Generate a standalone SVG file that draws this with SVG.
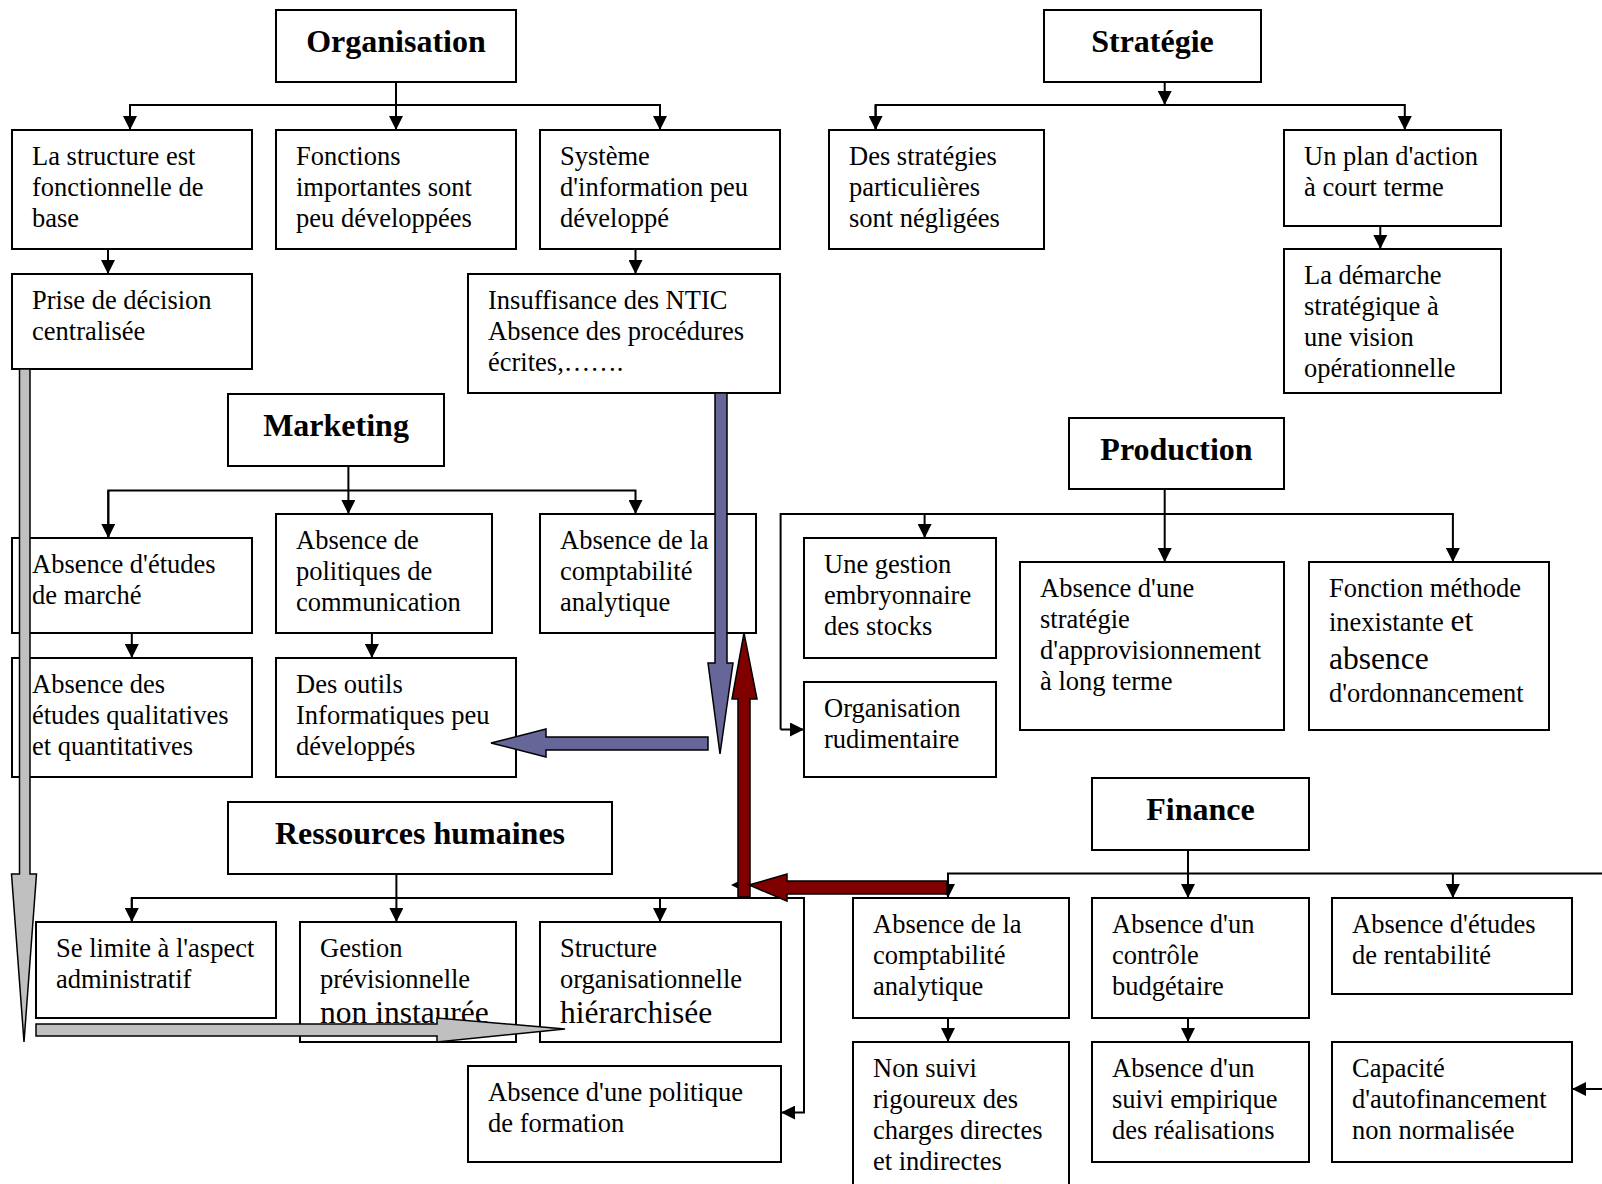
<svg xmlns="http://www.w3.org/2000/svg" width="1602" height="1184" viewBox="0 0 1602 1184">
<defs>
<style>
.box{fill:#fff;stroke:#000;stroke-width:2}
.t{font-family:"Liberation Serif","Times New Roman",serif;font-size:26.5px;fill:#000}
.big{font-size:31.5px}
.h{font-family:"Liberation Serif","Times New Roman",serif;font-size:32px;font-weight:bold;text-anchor:middle;fill:#000}
.c{fill:none;stroke:#000;stroke-width:2}
.gray{fill:#c0c0c0;stroke:#000;stroke-width:1.5}
.blue{fill:#666699;stroke:#000;stroke-width:1.5}
.red{fill:#800000;stroke:#000;stroke-width:1.5}
</style>
<marker id="ah" markerUnits="userSpaceOnUse" markerWidth="14" markerHeight="14" refX="14" refY="7" orient="auto"><path d="M0,0 L14,7 L0,14 z" fill="#000"/></marker>
</defs>
<rect width="1602" height="1184" fill="#fff"/>

<g id="connectors">
<!-- Organisation -->
<path class="c" d="M396,82 V130" marker-end="url(#ah)"/>
<path class="c" d="M130,130 V105 H660 V130" marker-end="url(#ah)"/>
<path class="c" d="M130,105 V130" marker-end="url(#ah)"/>
<path class="c" d="M108,249 V274" marker-end="url(#ah)"/>
<path class="c" d="M635.5,249 V274" marker-end="url(#ah)"/>
<!-- Strategie -->
<path class="c" d="M1164.7,82 V105" marker-end="url(#ah)"/>
<path class="c" d="M875.6,130 V105 H1404.8 V130" marker-end="url(#ah)"/>
<path class="c" d="M875.6,105 V130" marker-end="url(#ah)"/>
<path class="c" d="M1380.3,226 V249" marker-end="url(#ah)"/>
<!-- Marketing -->
<path class="c" d="M348.4,466 V514" marker-end="url(#ah)"/>
<path class="c" d="M108.3,538 V490.4 H635.5 V514" marker-end="url(#ah)"/>
<path class="c" d="M108.3,490.4 V538" marker-end="url(#ah)"/>
<path class="c" d="M131.8,633 V658" marker-end="url(#ah)"/>
<path class="c" d="M371.9,633 V658" marker-end="url(#ah)"/>
<!-- Production -->
<path class="c" d="M1164.7,489 V562" marker-end="url(#ah)"/>
<path class="c" d="M780.6,729.5 V514 H1452.9 V562" marker-end="url(#ah)"/>
<path class="c" d="M780.6,729.5 H804" marker-end="url(#ah)"/>
<path class="c" d="M924.6,514 V538" marker-end="url(#ah)"/>
<!-- Ressources humaines -->
<path class="c" d="M396.4,874 V922" marker-end="url(#ah)"/>
<path class="c" d="M131.8,922 V898 H804 V1112.6 H781" marker-end="url(#ah)"/>
<path class="c" d="M131.8,898 V922" marker-end="url(#ah)"/>
<path class="c" d="M660,898 V922" marker-end="url(#ah)"/>
<!-- Finance -->
<path class="c" d="M1188,850 V898" marker-end="url(#ah)"/>
<path class="c" d="M948,898 V873.6 H1602"/>
<path class="c" d="M948,873.6 V898" marker-end="url(#ah)"/>
<path class="c" d="M1452.9,873.6 V898" marker-end="url(#ah)"/>
<path class="c" d="M948,1018 V1042" marker-end="url(#ah)"/>
<path class="c" d="M1188,1018 V1042" marker-end="url(#ah)"/>
<path class="c" d="M1602,1089 H1572" marker-end="url(#ah)"/>
<polygon points="731,885 742,879.5 742,890.5" fill="#000"/>
</g>

<g id="organisation"><rect class="box" x="276" y="10" width="240" height="72"/><text class="h" x="396" y="52">Organisation</text></g>
<g id="org-structure"><rect class="box" x="12" y="130" width="240" height="119"/><text class="t" x="32" y="165">La structure est</text><text class="t" x="32" y="196">fonctionnelle de</text><text class="t" x="32" y="227">base</text></g>
<g id="org-fonctions"><rect class="box" x="276" y="130" width="240" height="119"/><text class="t" x="296" y="165">Fonctions</text><text class="t" x="296" y="196">importantes sont</text><text class="t" x="296" y="227">peu développées</text></g>
<g id="org-systeme"><rect class="box" x="540" y="130" width="240" height="119"/><text class="t" x="560" y="165">Système</text><text class="t" x="560" y="196">d'information peu</text><text class="t" x="560" y="227">développé</text></g>
<g id="org-decision"><rect class="box" x="12" y="274" width="240" height="95"/><text class="t" x="32" y="309">Prise de décision</text><text class="t" x="32" y="340">centralisée</text></g>
<g id="org-ntic"><rect class="box" x="468" y="274" width="312" height="119"/><text class="t" x="488" y="309">Insuffisance des NTIC</text><text class="t" x="488" y="340">Absence des procédures</text><text class="t" x="488" y="371">écrites,…….</text></g>

<g id="strategie"><rect class="box" x="1044" y="10" width="217" height="72"/><text class="h" x="1152.5" y="52">Stratégie</text></g>
<g id="str-particulieres"><rect class="box" x="829" y="130" width="215" height="119"/><text class="t" x="849" y="165">Des stratégies</text><text class="t" x="849" y="196">particulières</text><text class="t" x="849" y="227">sont négligées</text></g>
<g id="str-plan"><rect class="box" x="1284" y="130" width="217" height="96"/><text class="t" x="1304" y="165">Un plan d'action</text><text class="t" x="1304" y="196">à court terme</text></g>
<g id="str-demarche"><rect class="box" x="1284" y="249" width="217" height="144"/><text class="t" x="1304" y="284">La démarche</text><text class="t" x="1304" y="315">stratégique à</text><text class="t" x="1304" y="346">une vision</text><text class="t" x="1304" y="377">opérationnelle</text></g>

<g id="marketing"><rect class="box" x="228" y="394" width="216" height="72"/><text class="h" x="336" y="436">Marketing</text></g>
<g id="mkt-etudes"><rect class="box" x="12" y="538" width="240" height="95"/><text class="t" x="32" y="573">Absence d'études</text><text class="t" x="32" y="604">de marché</text></g>
<g id="mkt-communication"><rect class="box" x="276" y="514" width="216" height="119"/><text class="t" x="296" y="549">Absence de</text><text class="t" x="296" y="580">politiques de</text><text class="t" x="296" y="611">communication</text></g>
<g id="mkt-comptabilite"><rect class="box" x="540" y="514" width="216" height="119"/><text class="t" x="560" y="549">Absence de la</text><text class="t" x="560" y="580">comptabilité</text><text class="t" x="560" y="611">analytique</text></g>
<g id="mkt-qualitatives"><rect class="box" x="12" y="658" width="240" height="119"/><text class="t" x="32" y="693">Absence des</text><text class="t" x="32" y="724">études qualitatives</text><text class="t" x="32" y="755">et quantitatives</text></g>
<g id="mkt-outils"><rect class="box" x="276" y="658" width="240" height="119"/><text class="t" x="296" y="693">Des outils</text><text class="t" x="296" y="724">Informatiques peu</text><text class="t" x="296" y="755">développés</text></g>

<g id="production"><rect class="box" x="1069" y="418" width="215" height="71"/><text class="h" x="1176.5" y="460">Production</text></g>
<g id="prod-stocks"><rect class="box" x="804" y="538" width="192" height="120"/><text class="t" x="824" y="573">Une gestion</text><text class="t" x="824" y="604">embryonnaire</text><text class="t" x="824" y="635">des stocks</text></g>
<g id="prod-organisation"><rect class="box" x="804" y="682" width="192" height="95"/><text class="t" x="824" y="717">Organisation</text><text class="t" x="824" y="748">rudimentaire</text></g>
<g id="prod-approvisionnement"><rect class="box" x="1020" y="562" width="264" height="168"/><text class="t" x="1040" y="597">Absence d'une</text><text class="t" x="1040" y="628">stratégie</text><text class="t" x="1040" y="659">d'approvisionnement</text><text class="t" x="1040" y="690">à long terme</text></g>
<g id="prod-methode"><rect class="box" x="1309" y="562" width="240" height="168"/><text class="t" x="1329" y="597">Fonction méthode</text><text class="t" x="1329" y="631">inexistante <tspan class="big">et</tspan></text><text class="t big" x="1329" y="669">absence</text><text class="t" x="1329" y="702">d'ordonnancement</text></g>

<g id="ressources-humaines"><rect class="box" x="228" y="802" width="384" height="72"/><text class="h" x="420" y="844">Ressources humaines</text></g>
<g id="rh-administratif"><rect class="box" x="36" y="922" width="240" height="96"/><text class="t" x="56" y="957">Se limite à l'aspect</text><text class="t" x="56" y="988">administratif</text></g>
<g id="rh-previsionnelle"><rect class="box" x="300" y="922" width="216" height="120"/><text class="t" x="320" y="957">Gestion</text><text class="t" x="320" y="988">prévisionnelle</text><text class="t big" x="320" y="1023">non instaurée</text></g>
<g id="rh-structure"><rect class="box" x="540" y="922" width="241" height="120"/><text class="t" x="560" y="957">Structure</text><text class="t" x="560" y="988">organisationnelle</text><text class="t big" x="560" y="1023">hiérarchisée</text></g>
<g id="rh-formation"><rect class="box" x="468" y="1066" width="313" height="96"/><text class="t" x="488" y="1101">Absence d'une politique</text><text class="t" x="488" y="1132">de formation</text></g>

<g id="finance"><rect class="box" x="1092" y="778" width="217" height="72"/><text class="h" x="1200.5" y="820">Finance</text></g>
<g id="fin-comptabilite"><rect class="box" x="853" y="898" width="216" height="120"/><text class="t" x="873" y="933">Absence de la</text><text class="t" x="873" y="964">comptabilité</text><text class="t" x="873" y="995">analytique</text></g>
<g id="fin-controle"><rect class="box" x="1092" y="898" width="217" height="120"/><text class="t" x="1112" y="933">Absence d'un</text><text class="t" x="1112" y="964">contrôle</text><text class="t" x="1112" y="995">budgétaire</text></g>
<g id="fin-rentabilite"><rect class="box" x="1332" y="898" width="240" height="96"/><text class="t" x="1352" y="933">Absence d'études</text><text class="t" x="1352" y="964">de rentabilité</text></g>
<g id="fin-charges"><rect class="box" x="853" y="1042" width="216" height="160"/><text class="t" x="873" y="1077">Non suivi</text><text class="t" x="873" y="1108">rigoureux des</text><text class="t" x="873" y="1139">charges directes</text><text class="t" x="873" y="1170">et indirectes</text></g>
<g id="fin-suivi"><rect class="box" x="1092" y="1042" width="217" height="120"/><text class="t" x="1112" y="1077">Absence d'un</text><text class="t" x="1112" y="1108">suivi empirique</text><text class="t" x="1112" y="1139">des réalisations</text></g>
<g id="fin-autofinancement"><rect class="box" x="1332" y="1042" width="240" height="120"/><text class="t" x="1352" y="1077">Capacité</text><text class="t" x="1352" y="1108">d'autofinancement</text><text class="t" x="1352" y="1139">non normalisée</text></g>

<g id="block-arrows">
<polygon class="gray" points="19.5,369 30,369 30,874 36.5,874 24,1042 11.5,874 19.5,874"/>
<polygon class="gray" points="36,1024 437,1024 437,1018 565,1029 437,1042 437,1036 36,1036"/>
<polygon class="blue" points="715,393 727,393 727,663 733,663 720,754 708,663 715,663"/>
<polygon class="blue" points="708,737 546,737 546,729 491,743 546,757 546,750 708,750"/>
<polygon class="red" points="738,897 738,699 732,699 744,633 757,699 750,699 750,897"/>
<polygon class="red" points="947,881 787,881 787,874 749,885 787,901 787,894 947,894"/>
</g>
</svg>
